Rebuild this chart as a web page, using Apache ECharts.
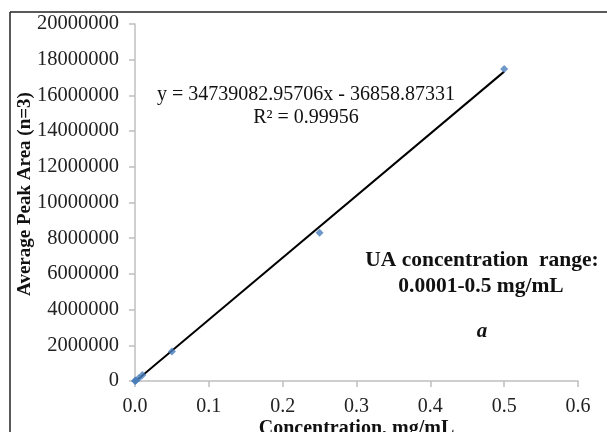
<!DOCTYPE html>
<html>
<head>
<meta charset="utf-8">
<script src="https://cdn.jsdelivr.net/npm/echarts@6/dist/echarts.min.js"></script>
<style>
html,body{margin:0;padding:0;background:#fff;}
#chart{width:607px;height:432px;}
</style>
</head>
<body>
<div id="chart"></div>
<script>
var concentrations = [0.0001, 0.0005, 0.001, 0.005, 0.01, 0.05, 0.25, 0.5];
var peakAreas = [3500, 17000, 35000, 160000, 330000, 1650000, 8300000, 17480000];
var trendX = [0, 0.5];
var trendY = [-36859, 17332682];
var xTicks = ['0.0', '0.1', '0.2', '0.3', '0.4', '0.5', '0.6'];
var yTicks = ['0', '2000000', '4000000', '6000000', '8000000', '10000000', '12000000', '14000000', '16000000', '18000000', '20000000'];

var serif = '"Liberation Serif", "Times New Roman", serif';
var chart = echarts.init(document.getElementById('chart'));
var scatterData = concentrations.map(function (c, i) { return [c, peakAreas[i]]; });
var trendData = trendX.map(function (c, i) { return [c, trendY[i]]; });

chart.setOption({
  animation: false,
  backgroundColor: '#fff',
  grid: { left: 135, right: 29, top: 24, bottom: 51, containLabel: false, outerBoundsMode: 'none' },
  xAxis: {
    type: 'value', min: 0, max: 0.6, interval: 0.1,
    axisLine: { show: true, lineStyle: { color: '#bfbfbf', width: 1.5 } },
    axisTick: { show: true, inside: false, length: 6, lineStyle: { color: '#bfbfbf', width: 1.5 } },
    splitLine: { show: false },
    axisLabel: {
      color: '#222', fontFamily: serif, fontSize: 20, margin: 16,
      formatter: function (v) { return xTicks[Math.round(v * 10)]; }
    },
    name: 'Concentration, mg/mL', nameLocation: 'middle', nameGap: 38, nameMoveOverlap: false,
    nameTextStyle: { color: '#111', fontFamily: serif, fontSize: 20, fontWeight: 'bold' }
  },
  yAxis: {
    type: 'value', min: 0, max: 20000000, interval: 2000000,
    axisLine: { show: true, lineStyle: { color: '#bfbfbf', width: 1.5 } },
    axisTick: { show: true, inside: false, length: 6, lineStyle: { color: '#bfbfbf', width: 1.5 } },
    splitLine: { show: false },
    axisLabel: {
      color: '#222', fontFamily: serif, fontSize: 20.5, margin: 16,
      formatter: function (v) { return yTicks[Math.round(v / 2000000)]; }
    }
  },
  series: [
    {
      type: 'line', data: trendData, symbol: 'none', clip: true,
      lineStyle: { color: '#000', width: 2 }, z: 2
    },
    {
      type: 'scatter', data: scatterData, symbol: 'diamond', symbolSize: 8,
      itemStyle: { color: '#4a7ebb' }, z: 3
    }
  ],
  graphic: [
    { type: 'line', shape: { x1: 10, y1: 12, x2: 607, y2: 12 }, style: { stroke: '#222', lineWidth: 1.5 } },
    { type: 'line', shape: { x1: 10, y1: 12, x2: 10, y2: 432 }, style: { stroke: '#222', lineWidth: 1.5 } },
    { type: 'text', x: 25, y: 194, rotation: Math.PI / 2, style: { text: 'Average Peak Area (n=3)', font: 'bold 19px ' + serif, fill: '#111', textAlign: 'center', textVerticalAlign: 'middle' } },
    { type: 'text', x: 306, y: 95, style: { text: 'y = 34739082.95706x - 36858.87331', font: '20px ' + serif, fill: '#111', textAlign: 'center', textVerticalAlign: 'middle' } },
    { type: 'text', x: 306, y: 118, style: { text: 'R² = 0.99956', font: '20px ' + serif, fill: '#111', textAlign: 'center', textVerticalAlign: 'middle' } },
    { type: 'text', x: 482, y: 260, style: { text: 'UA concentration  range:', font: 'bold 21.5px ' + serif, fill: '#111', textAlign: 'center', textVerticalAlign: 'middle' } },
    { type: 'text', x: 481, y: 286, style: { text: '0.0001-0.5 mg/mL', font: 'bold 21.5px ' + serif, fill: '#111', textAlign: 'center', textVerticalAlign: 'middle' } },
    { type: 'text', x: 482, y: 332, style: { text: 'a', font: 'italic bold 21px ' + serif, fill: '#111', textAlign: 'center', textVerticalAlign: 'middle' } }
  ]
});
</script>
</body>
</html>
